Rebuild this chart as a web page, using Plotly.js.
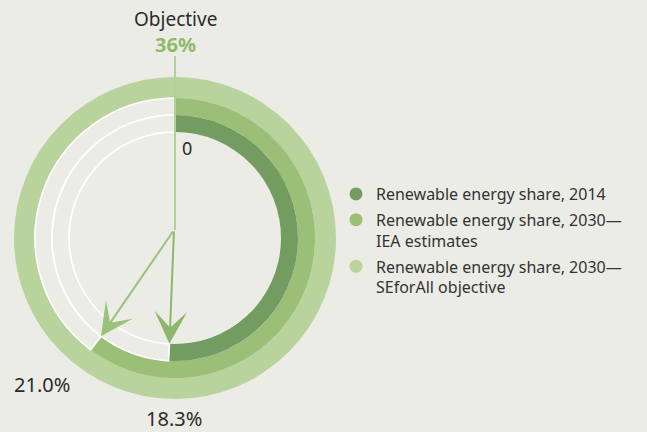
<!DOCTYPE html>
<html><head><meta charset="utf-8">
<script src="https://cdn.plot.ly/plotly-3.0.1.min.js"></script>
<style>html,body{margin:0;padding:0;background:#ecece7;} #chart{width:647px;height:432px;}</style>
</head><body><div id="chart"></div>
<script>
// ---- data ----
const seriesNames = [
  'Renewable energy share, 2014',
  'Renewable energy share, 2030—<br>IEA estimates',
  'Renewable energy share, 2030—<br>SEforAll objective'
];
// arc length of each ring as drawn, on a circle whose full turn = the 36% objective
const arcValues = [18.3, 21.7, 36.0];
const objectiveValue = 36;
const valueLabels = ['18.3%', '21.0%'];
const objectiveTitle = 'Objective';
const objectiveLabel = '36%';
const startLabel = '0';
const colors = ['#739d60', '#9bbf76', '#b8d39b'];
const bg = '#ecece7';

// ---- geometry ----
const W = 647, H = 432, cx = 175, cy = 238;
const rings = [{rOut: 123, rIn: 106}, {rOut: 140, rIn: 123}, {rOut: 161, rIn: 140}];
const px = x => x / W, py = y => 1 - y / H;

const traces = [];
for (let i = 2; i >= 0; i--) {
  const r = rings[i];
  const full = i === 2;
  traces.push({
    type: 'pie',
    values: full ? [objectiveValue] : [arcValues[i], objectiveValue - arcValues[i]],
    marker: {
      colors: full ? [colors[i]] : [colors[i], bg],
      line: {color: full ? [colors[i]] : [colors[i], '#ffffff'], width: full ? [0] : [0, 1.6]}
    },
    hole: r.rIn / r.rOut,
    domain: {x: [px(cx - r.rOut), px(cx + r.rOut)], y: [py(cy + r.rOut), py(cy - r.rOut)]},
    sort: false, direction: 'clockwise', rotation: 0,
    textinfo: 'none', hoverinfo: 'skip', showlegend: false
  });
}
for (let i = 0; i < 3; i++) {
  traces.push({type: 'scatter', mode: 'markers', x: [null], y: [null], name: seriesNames[i],
    legendgroup: 'g' + i, marker: {color: colors[i], size: 13}, hoverinfo: 'skip'});
}

const ox = cx - 1, oy = cy - 8; // arrow origin
const annotations = [];
for (let i = 0; i < 2; i++) {
  const th = arcValues[i] / objectiveValue * 2 * Math.PI;
  const r = rings[i].rIn;
  const tx = cx + r * Math.sin(th), ty = cy - r * Math.cos(th);
  annotations.push({xref: 'paper', yref: 'paper', x: px(tx), y: py(ty), text: '', showarrow: true,
    ax: ox - tx, ay: oy - ty, arrowhead: 3, arrowsize: 2.7, arrowwidth: 2,
    arrowcolor: i === 0 ? '#8cb66a' : '#9cc17a', standoff: 0});
}
const txt = (t, x, y, size, color, bold) => ({xref: 'paper', yref: 'paper', x: px(x), y: py(y),
  xanchor: 'center', yanchor: 'middle', showarrow: false,
  text: bold ? '<b>' + t + '</b>' : t, font: {family: 'Noto Sans', size: size, color: color}});
annotations.push(txt(objectiveTitle, 175, 19, 19, '#2b2b2b'));
annotations.push(txt(objectiveLabel, 175, 45, 20, '#8fba6c', true));
annotations.push(txt(startLabel, 187, 148, 18, '#2b2b2b'));
annotations.push(txt(valueLabels[1], 42, 384, 20, '#2b2b2b'));
annotations.push(txt(valueLabels[0], 174, 418, 20, '#2b2b2b'));

const layout = {
  width: W, height: H, margin: {l: 0, r: 0, t: 0, b: 0},
  paper_bgcolor: bg, plot_bgcolor: bg,
  xaxis: {visible: false}, yaxis: {visible: false},
  showlegend: true,
  legend: {x: px(336), y: py(177), xanchor: 'left', yanchor: 'top', valign: 'top', tracegroupgap: 2,
    font: {family: 'Noto Sans', size: 16, color: '#333333'}, bgcolor: 'rgba(0,0,0,0)'},
  shapes: [{type: 'line', xref: 'paper', yref: 'paper', x0: px(cx), x1: px(cx), y0: py(56), y1: py(oy),
    line: {color: '#b5d199', width: 2}, layer: 'above'}],
  annotations: annotations
};
Plotly.newPlot('chart', traces, layout, {displayModeBar: false, staticPlot: true});
</script></body></html>
